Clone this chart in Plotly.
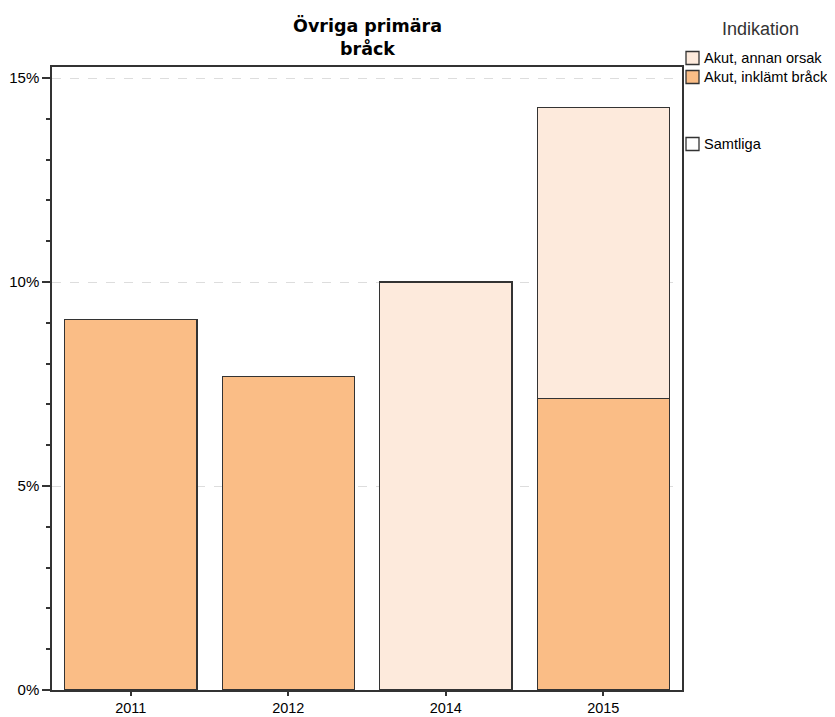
import plotly.graph_objects as go

years = ["2011", "2012", "2014", "2015"]
inklamt = [9.09, 7.69, None, 7.14]
annan = [None, None, 10.0, 7.14]
series_names = ["Akut, annan orsak", "Akut, inklämt bråck", "Samtliga"]
series_colors = ["#FDEADC", "#FABD86", "#FFFFFF"]
ytick_vals = [0, 5, 10, 15]
ytick_text = ["0%", "5%", "10%", "15%"]
title_text = "Övriga primära<br>bråck"

FONT = "Liberation Sans, Arial, sans-serif"

fig = go.Figure()
fig.add_trace(go.Bar(x=years, y=inklamt, name=series_names[1],
                     marker=dict(color=series_colors[1], line=dict(color="#333333", width=1.2)),
                     showlegend=False))
fig.add_trace(go.Bar(x=years, y=annan, name=series_names[0],
                     marker=dict(color=series_colors[0], line=dict(color="#333333", width=1.2)),
                     showlegend=False))

# manual legend (positions relative to the plot's top-right corner, in pixels)
legend_rows = [(series_names[0], 9), (series_names[1], -10), (series_names[2], -77)]
for (name, yoff), col in zip(legend_rows, series_colors):
    fig.add_shape(type="rect", xref="paper", yref="paper", xanchor=1, yanchor=1,
                  xsizemode="pixel", ysizemode="pixel",
                  x0=4, x1=17, y0=yoff - 6.5, y1=yoff + 6.5,
                  fillcolor=col, line=dict(color="#333333", width=1.3))
    fig.add_annotation(text=name, xref="paper", yref="paper", x=1, y=1,
                       xshift=20, yshift=yoff, xanchor="left", yanchor="middle",
                       showarrow=False, font=dict(family=FONT, size=14.6, color="#000000"))
fig.add_annotation(text="Indikation", xref="paper", yref="paper", x=1, y=1,
                   xshift=78, yshift=38, xanchor="center", yanchor="middle",
                   showarrow=False, font=dict(family=FONT, size=18, color="#333333"))

fig.add_annotation(text="<b>" + title_text + "</b>", xref="paper", yref="paper",
                   x=0.5, y=1, yshift=6, xanchor="center", yanchor="bottom",
                   showarrow=False, align="center",
                   font=dict(family="DejaVu Sans", size=17.5, color="#000000"))

# page body has an 8px default margin: compensate so the plot lands where the reference has it
fig.update_layout(
    width=827, height=709,
    margin=dict(l=44, r=153, t=59, b=27, autoexpand=False),
    barmode="stack", bargap=0.16,
    plot_bgcolor="white", paper_bgcolor="white",
    showlegend=False,
    font=dict(family=FONT, size=15, color="#000000"),
)
fig.update_xaxes(showline=True, linecolor="#333333", linewidth=1.5, mirror=True,
                 ticks="outside", ticklen=4, tickcolor="#333333", tickwidth=1.5, showgrid=False,
                 ticklabelstandoff=0,
                 tickfont=dict(family=FONT, size=14.5))
fig.update_yaxes(range=[0, 15.27], showline=True, linecolor="#333333", linewidth=1.5, mirror=True,
                 tickvals=ytick_vals, ticktext=ytick_text, ticks="outside", ticklen=8,
                 tickcolor="#333333", tickwidth=1.5,
                 showgrid=True, gridcolor="#DDDDDD", griddash="dash", gridwidth=1,
                 zeroline=False,
                 minor=dict(dtick=1, ticks="outside", ticklen=4, tickcolor="#333333", showgrid=False),
                 tickfont=dict(family=FONT, size=15))

fig.write_html("out.html")
